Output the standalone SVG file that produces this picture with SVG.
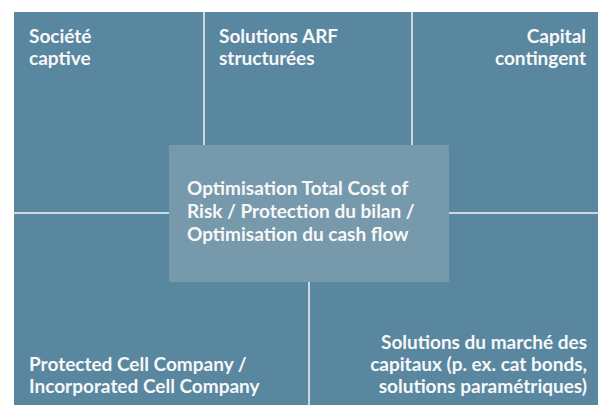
<svg xmlns="http://www.w3.org/2000/svg" width="598" height="405" viewBox="0 0 598 405">
<style>
.bg{fill:#5a87a0}
.center{fill:#7799ac}
.t{font-family:Lato,"Noto Sans",sans-serif;font-weight:bold;font-size:19px;fill:#f7f8f8}
.r{text-anchor:end}
.div{stroke:#f2f4f5;stroke-width:1.5;fill:none}
</style>
<rect class="bg" x="14" y="12" width="584" height="393"/>
<g id="connectors">
<line class="div" x1="204" y1="12" x2="204" y2="145"/>
<line class="div" x1="412" y1="12" x2="412" y2="145"/>
<line class="div" x1="14" y1="213" x2="169" y2="213"/>
<line class="div" x1="449" y1="213" x2="598" y2="213"/>
<line class="div" x1="309" y1="282" x2="309" y2="405"/>
</g>
<g id="societe-captive">
<text class="t" x="29" y="43">Société</text>
<text class="t" x="29" y="65">captive</text>
</g>
<g id="solutions-arf">
<text class="t" x="219" y="43">Solutions ARF</text>
<text class="t" x="219" y="65">structurées</text>
</g>
<g id="capital-contingent">
<text class="t r" x="586" y="43">Capital</text>
<text class="t r" x="586" y="65">contingent</text>
</g>
<g id="center">
<rect class="center" x="169" y="145" width="280" height="137"/>
<text class="t" x="187" y="195">Optimisation Total Cost of</text>
<text class="t" x="187" y="218">Risk / Protection du bilan /</text>
<text class="t" x="187" y="241">Optimisation du cash flow</text>
</g>
<g id="pcc-icc">
<text class="t" x="29" y="371">Protected Cell Company /</text>
<text class="t" x="29" y="393">Incorporated Cell Company</text>
</g>
<g id="marche-capitaux">
<text class="t r" x="587" y="349">Solutions du marché des</text>
<text class="t r" x="587" y="371">capitaux (p. ex. cat bonds,</text>
<text class="t r" x="587" y="393">solutions paramétriques)</text>
</g>
</svg>
